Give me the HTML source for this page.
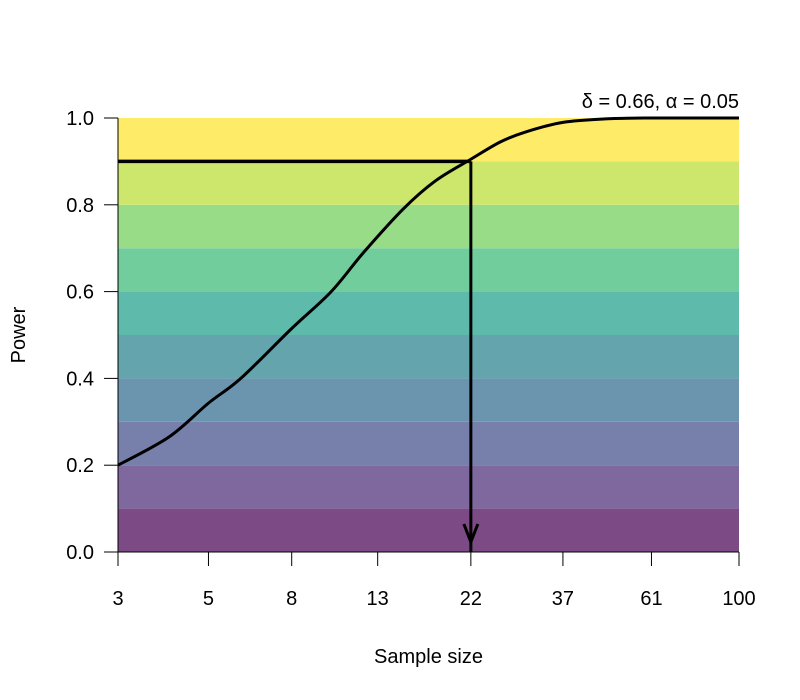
<!DOCTYPE html>
<html><head><meta charset="utf-8"><style>body{margin:0;background:#fff}svg{display:block;font-family:"Liberation Sans",sans-serif}</style></head>
<body>
<svg id="c" width="800" height="700"></svg>
<script>
const xTicks=[3,5,8,13,22,37,61,100];
const yTicks=[0,0.2,0.4,0.6,0.8,1.0];
const bandColors=["#7c4b85","#7e689e","#7680ab","#6b95ae","#64a4ad","#5ebaab","#71cd9c","#98dc88","#cde66c","#feec68"];
const sampleN=[3,4,5,6,8,10,12,15,18,22,26,30,37,47,60,100];
const powerVals=[0.2,0.265,0.343,0.40,0.515,0.60,0.69,0.79,0.855,0.905,0.945,0.968,0.99,0.998,1.0,1.0];
const targetPower=0.9, targetN=22;
const L=118,R=739,T=118,B=552;
const X=n=>L+(R-L)*Math.log(n/3)/Math.log(100/3);
const Y=p=>B-(B-T)*p;
const s=document.getElementById('c');const NS="http://www.w3.org/2000/svg";
function mk(t,a,p){const e=document.createElementNS(NS,t);for(const k in a)e.setAttribute(k,a[k]);(p||s).appendChild(e);return e;}
bandColors.forEach((c,i)=>{const r=mk('rect',{x:L,y:Y((i+1)/10),width:R-L,height:Y(i/10)-Y((i+1)/10),fill:c});

});
const P=sampleN.map((n,i)=>[X(n),Y(powerVals[i])]);
let d=`M${P[0][0]},${P[0][1]}`;
for(let i=0;i<P.length-1;i++){const p0=P[Math.max(0,i-1)],p1=P[i],p2=P[i+1],p3=P[Math.min(P.length-1,i+2)];
d+=` C${p1[0]+(p2[0]-p0[0])/6},${p1[1]+(p2[1]-p0[1])/6} ${p2[0]-(p3[0]-p1[0])/6},${p2[1]-(p3[1]-p1[1])/6} ${p2[0]},${p2[1]}`;}
const curve=mk('path',{d:d,fill:'none',stroke:'#000','stroke-width':3,'stroke-linejoin':'round'});


const hl=mk('line',{x1:L,y1:Y(targetPower),x2:X(targetN),y2:Y(targetPower),stroke:'#000','stroke-width':3.5});


const vl=mk('line',{x1:X(targetN),y1:Y(targetPower),x2:X(targetN),y2:B,stroke:'#000','stroke-width':3});


const ah=mk('path',{d:`M${X(targetN)-7},${B-28} L${X(targetN)},${B-10} L${X(targetN)+7},${B-28}`,fill:'none',stroke:'#000','stroke-width':3});


const xa=mk('line',{x1:L,y1:B,x2:R,y2:B,stroke:'#000','stroke-width':1});


const ya=mk('line',{x1:L,y1:T,x2:L,y2:B,stroke:'#000','stroke-width':1});


xTicks.forEach(t=>{mk('line',{x1:X(t),y1:B,x2:X(t),y2:B+14,stroke:'#000'});
const tx=mk('text',{x:X(t),y:B+53,'text-anchor':'middle','font-size':20});tx.textContent=t;

});
yTicks.forEach(t=>{mk('line',{x1:L,y1:Y(t),x2:L-14,y2:Y(t),stroke:'#000'});
const tx=mk('text',{x:L-24,y:Y(t)+7,'text-anchor':'end','font-size':20});tx.textContent=t.toFixed(1);

});
const xt=mk('text',{x:(L+R)/2,y:663,'text-anchor':'middle','font-size':20});xt.textContent='Sample size';


const yt=mk('text',{x:0,y:0,'text-anchor':'middle','font-size':20,transform:`translate(25,${(T+B)/2}) rotate(-90)`});yt.textContent='Power';


const ti=mk('text',{x:R,y:108,'text-anchor':'end','font-size':20});ti.textContent='δ = 0.66, α = 0.05';


</script>
</body></html>
